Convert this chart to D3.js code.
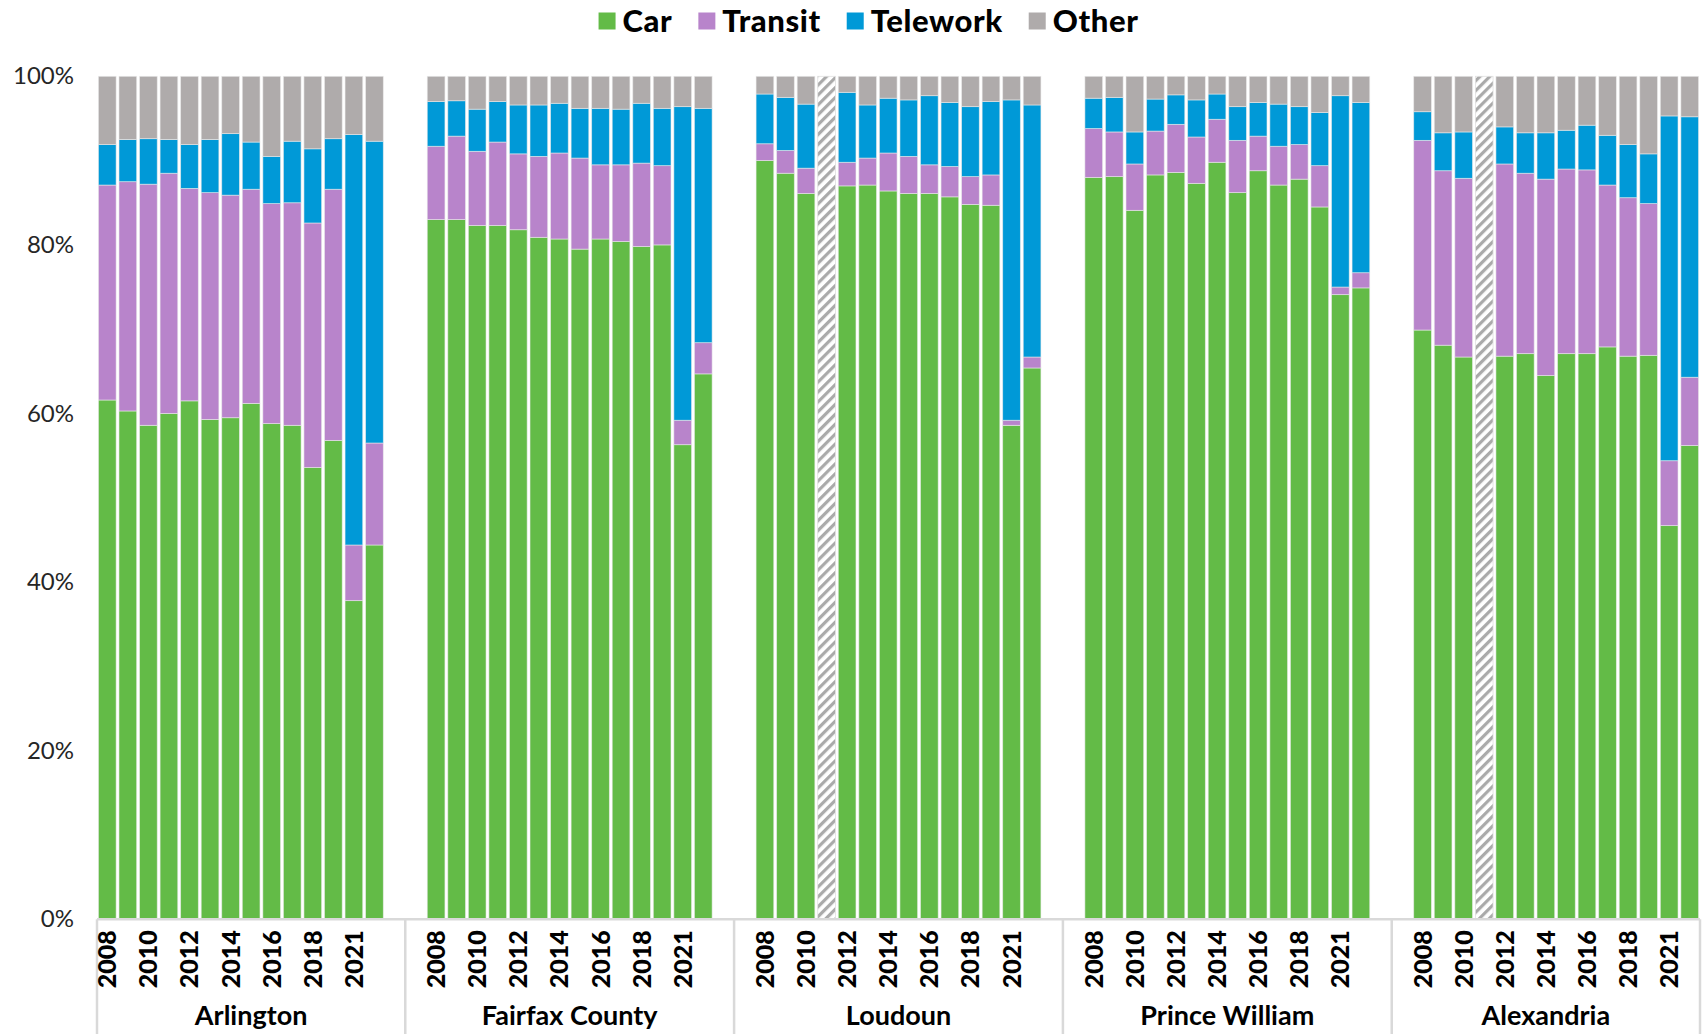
<!DOCTYPE html>
<html>
<head>
<meta charset="utf-8">
<script src="https://cdn.jsdelivr.net/npm/d3@7"></script>
<style>
  html, body { margin: 0; padding: 0; background: #fff; }
  svg { display: block; font-family: Lato, "Open Sans", sans-serif; }
</style>
</head>
<body>
<svg id="chart" width="1708" height="1034"></svg>
<script>
// Commute mode shares (%) by county, 2008–2022 (no 2020 survey)
const counties = ["Arlington", "Fairfax County", "Loudoun", "Prince William", "Alexandria"];
const years = [2008, 2009, 2010, 2011, 2012, 2013, 2014, 2015, 2016, 2017, 2018, 2019, 2021, 2022];
const yearLabels = [2008, 2010, 2012, 2014, 2016, 2018, 2021];
const modes = ["Car", "Transit", "Telework", "Other"];
const modeColors = ["#63bb47", "#b884cb", "#0099d7", "#afabab"];
const yTicks = [0, 20, 40, 60, 80, 100];

// one row per county, one value per year; null = no estimate published
const carShare = [
  [61.6, 60.3, 58.6, 60.0, 61.5, 59.3, 59.5, 61.2, 58.8, 58.6, 53.6, 56.8, 37.8, 44.4],
  [83.0, 83.0, 82.3, 82.3, 81.8, 80.9, 80.7, 79.5, 80.7, 80.4, 79.8, 80.0, 56.3, 64.7],
  [90.0, 88.5, 86.1, null, 87.0, 87.1, 86.4, 86.1, 86.1, 85.7, 84.8, 84.7, 58.6, 65.4],
  [88.0, 88.1, 84.1, 88.3, 88.6, 87.3, 89.8, 86.2, 88.8, 87.1, 87.8, 84.5, 74.1, 74.9],
  [69.9, 68.1, 66.7, null, 66.8, 67.1, 64.5, 67.1, 67.1, 67.9, 66.8, 66.9, 46.7, 56.2]
];
const transitShare = [
  [25.5, 27.2, 28.6, 28.5, 25.2, 26.9, 26.4, 25.4, 26.1, 26.4, 29.0, 29.8, 6.6, 12.1],
  [8.7, 9.9, 8.8, 9.9, 9.0, 9.6, 10.2, 10.8, 8.8, 9.1, 9.9, 9.4, 2.9, 3.7],
  [2.0, 2.7, 3.0, null, 2.8, 3.2, 4.5, 4.4, 3.4, 3.6, 3.3, 3.6, 0.6, 1.3],
  [5.8, 5.3, 5.5, 5.2, 5.7, 5.5, 5.1, 6.2, 4.1, 4.6, 4.1, 4.9, 0.9, 1.8],
  [22.5, 20.7, 21.2, null, 22.8, 21.4, 23.3, 21.9, 21.8, 19.2, 18.8, 18.0, 7.7, 8.1]
];
const teleworkShare = [
  [4.8, 5.0, 5.4, 4.0, 5.2, 6.3, 7.3, 5.6, 5.6, 7.3, 8.8, 6.0, 48.7, 35.8],
  [5.3, 4.2, 5.0, 4.8, 5.8, 6.1, 5.9, 5.9, 6.7, 6.6, 7.1, 6.8, 37.2, 27.8],
  [5.9, 6.3, 7.6, null, 8.3, 6.3, 6.5, 6.7, 8.2, 7.6, 8.3, 8.7, 38.0, 29.9],
  [3.6, 4.1, 3.8, 3.8, 3.5, 4.4, 3.0, 4.0, 4.0, 5.0, 4.5, 6.3, 22.7, 20.2],
  [3.4, 4.5, 5.5, null, 4.4, 4.8, 5.5, 4.6, 5.3, 5.9, 6.3, 5.9, 40.9, 30.9]
];
const otherShare = [
  [8.1, 7.5, 7.4, 7.5, 8.1, 7.5, 6.8, 7.8, 9.5, 7.7, 8.6, 7.4, 6.9, 7.7],
  [3.0, 2.9, 3.9, 3.0, 3.4, 3.4, 3.2, 3.8, 3.8, 3.9, 3.2, 3.8, 3.6, 3.8],
  [2.1, 2.5, 3.3, null, 1.9, 3.4, 2.6, 2.8, 2.3, 3.1, 3.6, 3.0, 2.8, 3.4],
  [2.6, 2.5, 6.6, 2.7, 2.2, 2.8, 2.1, 3.6, 3.1, 3.3, 3.6, 4.3, 2.3, 3.1],
  [4.2, 6.7, 6.6, null, 6.0, 6.7, 6.7, 6.4, 5.8, 7.0, 8.1, 9.2, 4.7, 4.8]
];

const svg = d3.select("#chart");
const plotLeft = 97, plotRight = 1700, plotTop = 76.3, plotBottom = 919.3;

// category slots: each county's years, with an empty slot between counties
const slots = [];
counties.forEach((c, ci) => {
  if (ci > 0) slots.push({ key: `gapL-${ci}`, county: c });
  years.forEach((yr, yi) => slots.push({ key: `${c}|${yr}`, county: c, year: yr, ci, yi }));
  if (ci < counties.length - 1) slots.push({ key: `gapR-${ci}`, county: c });
});

const x = d3.scaleBand()
  .domain(slots.map(s => s.key))
  .range([plotLeft, plotRight])
  .paddingInner(0.14)
  .paddingOuter(0.07);
const step = x.step();

const y = d3.scaleLinear().domain([0, 100]).range([plotBottom, plotTop]);

// rows for stacking
const rows = slots.filter(s => s.year !== undefined).map(s => ({
  key: s.key,
  missing: carShare[s.ci][s.yi] === null,
  Car: carShare[s.ci][s.yi] || 0,
  Transit: transitShare[s.ci][s.yi] || 0,
  Telework: teleworkShare[s.ci][s.yi] || 0,
  Other: otherShare[s.ci][s.yi] || 0
}));

const color = d3.scaleOrdinal().domain(modes).range(modeColors);
const series = d3.stack().keys(modes)(rows.filter(r => !r.missing));

// hatch pattern for years with no estimate
const defs = svg.append("defs");
const pat = defs.append("pattern")
  .attr("id", "hatch").attr("patternUnits", "userSpaceOnUse")
  .attr("width", 7).attr("height", 7)
  .attr("patternTransform", "rotate(45)");
pat.append("rect").attr("width", 7).attr("height", 7).attr("fill", "#fff");
pat.append("rect").attr("width", 3.2).attr("height", 7).attr("fill", "#aaa");

// y axis labels
const yAxis = d3.axisLeft(y).tickValues(yTicks).tickFormat(d => d + "%").tickSize(0).tickPadding(23);
svg.append("g")
  .attr("transform", `translate(${plotLeft},0)`)
  .call(yAxis)
  .call(g => g.select(".domain").remove())
  .call(g => g.selectAll("text")
    .attr("font-family", "Lato, 'Open Sans', sans-serif")
    .attr("font-size", 24).attr("fill", "#262626"));

// stacked bars
svg.append("g").selectAll("g")
  .data(series).join("g")
  .attr("fill", d => color(d.key))
  .selectAll("rect")
  .data(d => d).join("rect")
  .attr("x", d => x(d.data.key))
  .attr("width", x.bandwidth())
  .attr("y", d => y(d[1]))
  .attr("height", d => y(d[0]) - y(d[1]))
  .attr("stroke", "rgba(235,235,235,0.7)")
  .attr("stroke-width", 0.8);

// hatched bars for missing years
svg.append("g").selectAll("rect")
  .data(rows.filter(r => r.missing)).join("rect")
  .attr("x", d => x(d.key))
  .attr("width", x.bandwidth())
  .attr("y", y(100))
  .attr("height", y(0) - y(100))
  .attr("fill", "url(#hatch)")
  .attr("stroke", "#e0e0e0")
  .attr("stroke-width", 0.8);

// category axis: baseline and county separators
const axisColor = "#d9d9d9";
svg.append("line")
  .attr("x1", plotLeft).attr("x2", plotRight)
  .attr("y1", plotBottom).attr("y2", plotBottom)
  .attr("stroke", axisColor).attr("stroke-width", 2.5);

const sepXs = [plotLeft];
slots.forEach(s => { if (s.key.startsWith("gapR")) sepXs.push(x(s.key) - step * 0.07 + step); });
sepXs.push(plotRight);
svg.append("g").selectAll("line")
  .data(sepXs).join("line")
  .attr("x1", d => d).attr("x2", d => d)
  .attr("y1", plotBottom).attr("y2", 1034)
  .attr("stroke", axisColor).attr("stroke-width", 2.5);

// year tick labels (every other year)
const xAxis = d3.axisBottom(x)
  .tickValues(slots.filter(s => yearLabels.includes(s.year)).map(s => s.key))
  .tickFormat(k => k.split("|")[1])
  .tickSize(0);
svg.append("g")
  .attr("transform", `translate(0,${plotBottom})`)
  .call(xAxis)
  .call(g => g.select(".domain").remove())
  .call(g => g.selectAll("text")
    .attr("transform", "rotate(-90)")
    .attr("text-anchor", "end")
    .attr("x", -11).attr("y", 0).attr("dy", "0.36em")
    .attr("font-family", "Lato, sans-serif")
    .attr("font-weight", 900)
    .attr("font-size", 25)
    .attr("fill", "#000"));

// county labels centred under each group
const groupExtent = counties.map((c, ci) => [sepXs[ci], sepXs[ci + 1]]);
svg.append("g").selectAll("text")
  .data(counties).join("text")
  .attr("x", (d, i) => (groupExtent[i][0] + groupExtent[i][1]) / 2)
  .attr("y", 1016)
  .attr("dy", "0.35em")
  .attr("text-anchor", "middle")
  .attr("font-family", "Lato, sans-serif")
  .attr("font-weight", 700)
  .attr("font-size", 27)
  .attr("fill", "#000")
  .text(d => d);

// legend across the top
const legend = svg.append("g").attr("transform", "translate(0,21)");
const items = legend.selectAll("g").data(modes).join("g");
items.append("rect")
  .attr("width", 17).attr("height", 17).attr("y", -8.5)
  .attr("fill", d => color(d));
items.append("text")
  .attr("x", 24).attr("dy", "0.36em")
  .attr("font-family", "Lato, sans-serif")
  .attr("font-weight", 900)
  .attr("font-size", 31)
  .attr("letter-spacing", 0.6)
  .attr("fill", "#000")
  .text(d => d);
const widths = [];
items.each(function () {
  const w = 24 + this.querySelector("text").getComputedTextLength();
  widths.push(w);
});
const gap = 26;
const total = d3.sum(widths) + gap * (widths.length - 1);
let cursor = 868.5 - total / 2;
items.attr("transform", (d, i) => {
  const t = `translate(${cursor},0)`;
  cursor += widths[i] + gap;
  return t;
});
</script>
</body>
</html>
